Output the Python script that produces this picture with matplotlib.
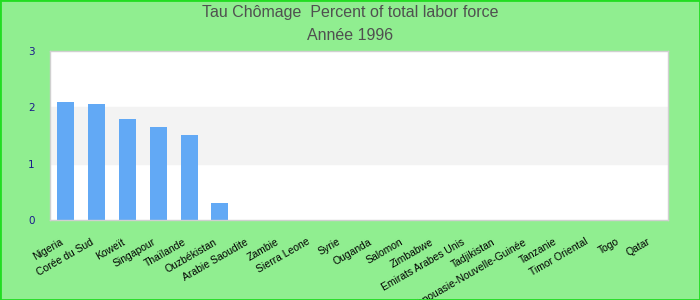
import numpy as np
import matplotlib.pyplot as plt
from matplotlib.transforms import ScaledTranslation

# Chart data
countries = ['Nigeria', 'Corée du Sud', 'Koweït', 'Singapour', 'Thaïlande',
             'Ouzbékistan', 'Arabie Saoudite', 'Zambie', 'Sierra Leone', 'Syrie',
             'Ouganda', 'Salomon', 'Zimbabwe', 'Emirats Arabes Unis', 'Tadjikistan',
             'Papouasie-Nouvelle-Guinée', 'Tanzanie', 'Timor Oriental', 'Togo', 'Qatar']
values = [2.10, 2.06, 1.79, 1.65, 1.51, 0.30, 0, 0, 0, 0,
          0, 0, 0, 0, 0, 0, 0, 0, 0, 0]
y_ticks = [0, 1, 2, 3]

title_line1 = 'Tau Chômage  Percent of total labor force'
title_line2 = 'Année 1996'

fig = plt.figure(figsize=(7, 3), dpi=100, facecolor='#90EE90')
ax = fig.add_axes([50 / 700, 80 / 300, 618 / 700, 169 / 300])
ax.set_facecolor('white')

# alternating band between 1 and 2
ax.axhspan(1, 2, color='#f3f3f3', zorder=0)

x = np.arange(len(countries))
ax.bar(x, values, width=0.55, color='#62a9f5', zorder=2)

ax.set_xlim(-0.5, len(countries) - 0.5)
ax.set_ylim(0, 3)
ax.set_yticks(y_ticks)
ax.set_yticklabels([str(t) for t in y_ticks], color='#1a1a8c', fontsize=7.5)
ax.tick_params(axis='y', length=0, pad=11)
ax.tick_params(axis='x', length=0, pad=12)

ax.set_xticks(x)
ax.set_xticklabels(countries, rotation=30, ha='right', va='top', rotation_mode='anchor',
                   fontsize=7.5, color='black', family=['Liberation Sans', 'DejaVu Sans'])
for lbl in ax.get_xticklabels():
    lbl.set_transform(lbl.get_transform() + ScaledTranslation(-6 / 100, 0, fig.dpi_scale_trans))

for s in ax.spines.values():
    s.set_color('#d0d0d0')
    s.set_linewidth(1)

title_font = ['Liberation Sans', 'DejaVu Sans']
fig.text(0.5, 1 - 13 / 300, title_line1, ha='center', va='center', fontsize=11.5,
         color='#505050', family=title_font)
fig.text(0.5, 1 - 36 / 300, title_line2, ha='center', va='center', fontsize=11.5,
         color='#505050', family=title_font)

# green outer border
fig.patches.append(plt.Rectangle((0, 0), 1, 1, transform=fig.transFigure, fill=False,
                                 edgecolor='#22dd22', linewidth=2))

fig.savefig('out.png', dpi=100, facecolor=fig.get_facecolor())
